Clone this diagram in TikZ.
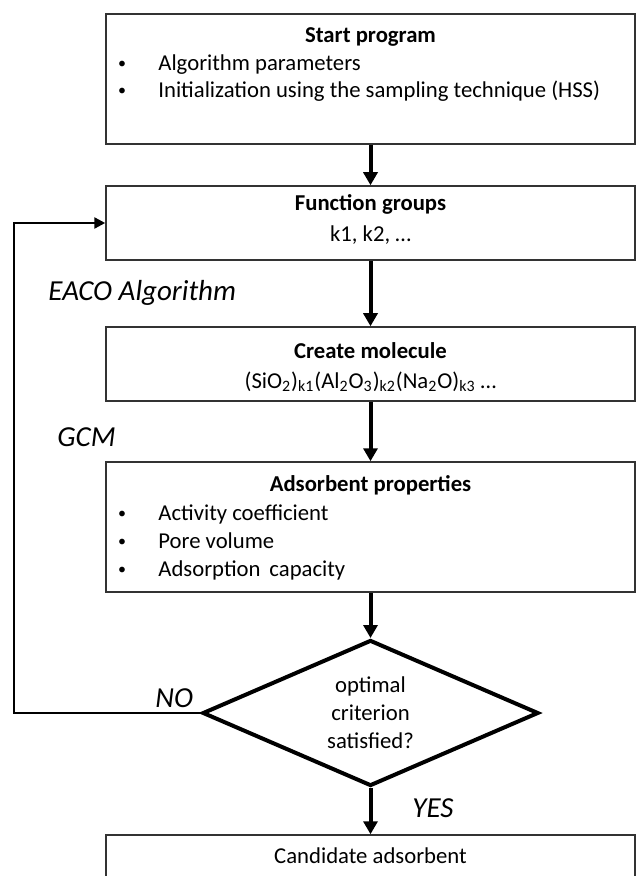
\documentclass[tikz,border=0pt]{standalone}
\usepackage{fontspec}
\setmainfont{Carlito}
\usetikzlibrary{shapes.geometric,arrows.meta}
\tikzstyle{blk}=[rectangle,draw=black!80,line width=0.75pt,fill=white,
  minimum width=264.5pt,inner sep=0pt]
\tikzstyle{txt}=[inner sep=0pt,anchor=base,font=\fontsize{11.35}{13.5}\selectfont]
\tikzstyle{hdr}=[txt,font=\fontsize{11.35}{13.5}\selectfont\bfseries]
\tikzstyle{itm}=[txt,anchor=base west]
\tikzstyle{dot}=[txt,font=\fontsize{8}{10}\selectfont]
\tikzstyle{lbl}=[inner sep=0pt,anchor=base west,font=\fontsize{14.5}{17}\selectfont\itshape]
\tikzstyle{dec}=[diamond,draw=black,line width=2pt,fill=white,minimum width=168pt,
  minimum height=73pt,aspect=2.3,inner sep=0pt,align=center,font=\fontsize{11.35}{14}\selectfont]
\tikzstyle{flow}=[line width=2pt,-{Triangle[length=6.5pt,width=7pt]}]
\tikzstyle{back}=[line width=1.2pt,-{Triangle[length=5.5pt,width=5.5pt]}]

\begin{document}
\begin{tikzpicture}[x=0.5pt,y=-0.5pt]
    \useasboundingbox (0,0) rectangle (636,876);
    \clip (0,0) rectangle (636,876);
    \node [style=blk,minimum height=65pt] (box1) at (370.5,79) {};
    \node [style=hdr] (start) at (370.5,43) {Start program};
    \node [style=dot] (b11) at (122,69) {•};
    \node [style=itm] (par) at (158,71) {Algorithm parameters};
    \node [style=dot] (b12) at (122,96) {•};
    \node [style=itm] (init) at (158,98) {Initialization using the sampling technique (HSS)};
    \node [style=blk,minimum height=37pt] (box2) at (370.5,223) {};
    \node [style=hdr] (fg) at (370.5,211) {Function groups};
    \node [style=txt] (ks) at (370.5,242) {k1, k2, \ldots};
    \node [style=blk,minimum height=37pt] (box3) at (370.5,364) {};
    \node [style=hdr] (cm) at (370.5,358) {Create molecule};
    \node [style=txt] (form) at (370.5,388) {(SiO\textsubscript{2})\textsubscript{k1}(Al\textsubscript{2}O\textsubscript{3})\textsubscript{k2}(Na\textsubscript{2}O)\textsubscript{k3} \ldots};
    \node [style=blk,minimum height=65pt] (box4) at (370.5,527) {};
    \node [style=hdr] (ap) at (370.5,491) {Adsorbent properties};
    \node [style=dot] (b41) at (122,518) {•};
    \node [style=itm] (act) at (158,520) {Activity coefficient};
    \node [style=dot] (b42) at (122,546) {•};
    \node [style=itm] (pore) at (158,548) {Pore volume};
    \node [style=dot] (b43) at (122,574) {•};
    \node [style=itm] (cap) at (158,576) {Adsorption\, capacity};
    \node [style=dec] (crit) at (370.5,713) {optimal\\criterion\\satisfied?};
    \node [style=blk,minimum height=40pt] (box5) at (370.5,875) {};
    \node [style=txt] (cand) at (370.5,863) {Candidate adsorbent};
    \node [style=lbl] (eaco) at (48,301) {EACO Algorithm};
    \node [style=lbl] (gcm) at (57,446) {GCM};
    \node [style=lbl] (no) at (155,707) {NO};
    \node [style=lbl] (yes) at (412,817) {YES};
    \coordinate (cnr) at (14,713);
    \draw [style=flow] (box1) to (box2);
    \draw [style=flow] (box2) to (box3);
    \draw [style=flow] (box3) to (box4);
    \draw [style=flow] (box4) to (crit);
    \draw [style=flow] (crit) to (box5);
    \draw [style=back] (crit.west) -- (cnr) |- (box2.west);
  \end{tikzpicture}
\end{document}
